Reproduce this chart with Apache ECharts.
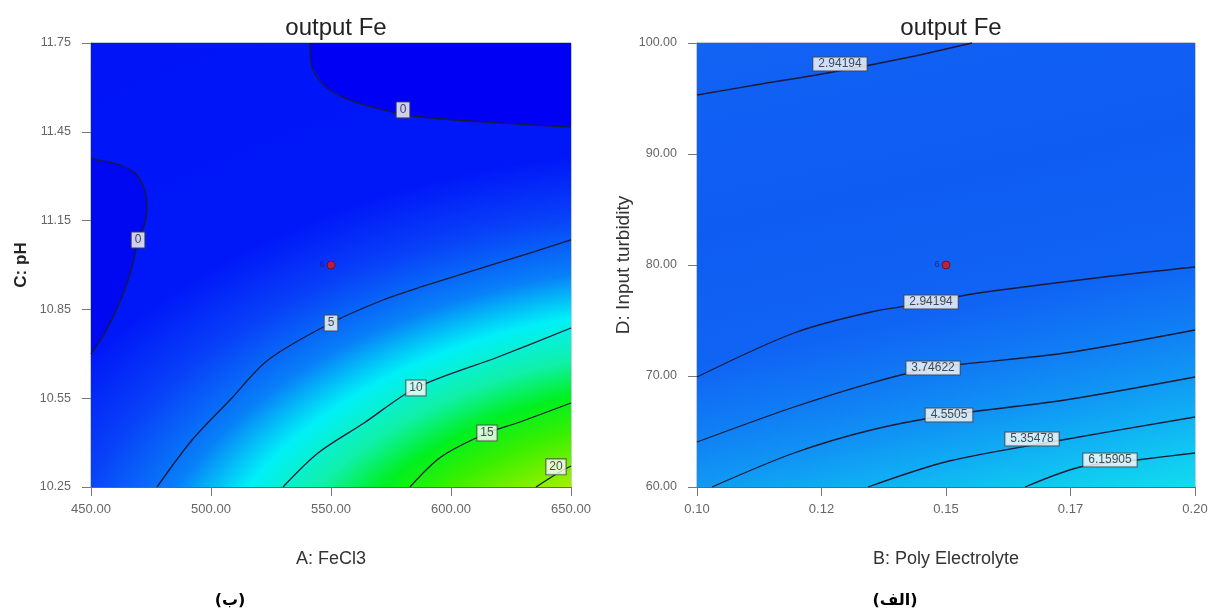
<!DOCTYPE html>
<html><head><meta charset="utf-8">
<script src="https://cdn.jsdelivr.net/npm/echarts@6/dist/echarts.min.js"></script>
<style>html,body{margin:0;padding:0;background:#fff}#c{width:1208px;height:610px}</style>
</head><body><div id="c"></div>
<script>
// ---------------- data ----------------
const leftXTicks  = ['450.00','500.00','550.00','600.00','650.00'];
const leftYTicks  = ['10.25','10.55','10.85','11.15','11.45','11.75'];
const rightXTicks = ['0.10','0.12','0.15','0.17','0.20'];
const rightYTicks = ['60.00','70.00','80.00','90.00','100.00'];
const rightXTickValues = [0.10,0.125,0.15,0.175,0.20];

// Left chart: A: FeCl3 (x) vs C: pH (y), contour lines of output Fe
const leftContour0Top  = [[541.25,11.75],[542.1,11.669],[547.9,11.601],[555.8,11.564],[571.7,11.524],[587.5,11.500],[619.6,11.480],[650,11.466]];
const leftContour0Left = [[450,11.3615],[452.9,11.3547],[462.1,11.3378],[468.3,11.3108],[472.1,11.2601],[473.3,11.1959],[472.5,11.1419],[469.6,11.0845],[467.1,10.9932],[462.9,10.8919],[455.8,10.7703],[450,10.6993]];
const leftContour5  = [[477.5,10.25],[492.1,10.4088],[507.9,10.5439],[523.75,10.6791],[550,10.8041],[571.7,10.8818],[587.5,10.9257],[619.6,11.0068],[650,11.0845]];
const leftContour10 = [[530,10.25],[544.6,10.3649],[563.75,10.4662],[585.4,10.5845],[619.6,10.6892],[650,10.7872]];
const leftContour15 = [[582.9,10.25],[595.8,10.3514],[615,10.4324],[627.5,10.4662],[650,10.5338]];
const leftContour20 = [[635.4,10.25],[644.6,10.2973],[650,10.3209]];
const leftLabels = [[580,11.524,'0'],[469.6,11.0845,'0'],[550,10.804,'5'],[585.4,10.5845,'10'],[615,10.4324,'15'],[643.75,10.318,'20']];
const leftDesignPoints = [[550,11.0,'6']];

// Right chart: B: Poly Electrolyte (x) vs D: Input turbidity (y)
const rightContour294Top = [[0.1,95.315],[0.11165,96.216],[0.12731,97.387],[0.14277,98.739],[0.15522,100]];
const rightContour294    = [[0.1,69.91],[0.11948,73.874],[0.13494,75.766],[0.147,76.667],[0.15522,77.387],[0.18173,78.919],[0.2,79.82]];
const rightContour374    = [[0.1,64.054],[0.11948,67.207],[0.13494,69.369],[0.1474,70.721],[0.1739,72.072],[0.2,74.144]];
const rightContour455    = [[0.10301,60],[0.11948,63.063],[0.13494,65.135],[0.1506,66.486],[0.1739,67.838],[0.2,69.91]];
const rightContour535    = [[0.13434,60],[0.1506,62.342],[0.17329,64.234],[0.2,66.306]];
const rightContour616    = [[0.16586,60],[0.17691,61.802],[0.18835,62.432],[0.2,63.063]];
const rightLabels = [[0.12871,98.108,'2.94194'],[0.147,76.667,'2.94194'],[0.1474,70.721,'3.74622'],[0.1506,66.486,'4.5505'],[0.16727,64.324,'5.35478'],[0.18293,62.432,'6.15905']];
const rightDesignPoints = [[0.15,80,'6']];

// ---------------- styles ----------------
const FONT = 'Liberation Sans, Arial, sans-serif';
const LINE_COLOR = '#1a1a36';
// left colour ramp: ellipse centre and unit radii (data units), ramp offsets = radius / 1.85
const leftRampCenter = [703.75, 9.7007];
const leftRampRadius = [240.6, 1.3007];
const leftStops = [
  [0.37,'#e8f000'],[0.453,'#b8f000'],[0.53,'#78f000'],[0.608,'#38f000'],[0.695,'#00f020'],
  [0.782,'#10f0a8'],[0.89,'#00f0f8'],[1.0,'#0880f8'],[1.15,'#0840f8'],[1.30,'#0018f8'],[1.85,'#0014f8']
].map(s => ({offset: s[0] / 1.85, color: s[1]}));
const rightStops = [
  [0,'#1264f4'],[0.1035,'#1160f4'],[0.3475,'#0f5cf2'],[0.584,'#1064f4'],[0.704,'#107ef4'],
  [0.791,'#1096f4'],[0.861,'#10aef4'],[0.928,'#10c6f2'],[1,'#12dcf0']
].map(s => ({offset: s[0], color: s[1]}));

function axisRange(ticks) {
  const v = ticks.map(Number);
  return {min: v[0], max: v[v.length - 1], interval: (v[v.length - 1] - v[0]) / (v.length - 1)};
}
const LX = axisRange(leftXTicks), LY = axisRange(leftYTicks);
const RX = axisRange(rightXTickValues);
const RY = axisRange(rightYTicks);
function tickFmt(ticks, r) {
  return v => { const i = Math.round((v - r.min) / r.interval); return ticks[i] !== undefined ? ticks[i] : ''; };
}

function xAxisOf(gi, r, ticks, name) {
  return {
    gridIndex: gi, type: 'value', min: r.min, max: r.max, interval: r.interval,
    name: name, nameLocation: 'middle', nameGap: 63,
    nameTextStyle: {fontSize: 18, color: '#333', fontFamily: FONT},
    axisLine: {show: true, lineStyle: {color: '#666', width: 1}},
    axisTick: {show: true, length: 9, lineStyle: {color: '#777'}},
    axisLabel: {show: true, formatter: tickFmt(ticks, r), fontSize: 13, color: '#666', margin: 16,
      fontFamily: FONT, showMinLabel: true, showMaxLabel: true, hideOverlap: false},
    splitLine: {show: false}
  };
}
function yAxisOf(gi, r, ticks, name, gap, bold, fs) {
  return {
    gridIndex: gi, type: 'value', min: r.min, max: r.max, interval: r.interval,
    name: name, nameLocation: 'middle', nameGap: gap, nameRotate: 90,
    nameTextStyle: {fontSize: fs, color: bold ? '#222' : '#333', fontWeight: bold ? 'bold' : 'normal', fontFamily: FONT},
    axisLine: {show: true, lineStyle: {color: '#666', width: 1}},
    axisTick: {show: true, length: 9, lineStyle: {color: '#777'}},
    axisLabel: {show: true, formatter: tickFmt(ticks, r), fontSize: 12.5, color: '#666', margin: 20,
      fontFamily: FONT, showMinLabel: true, showMaxLabel: true, hideOverlap: false},
    splitLine: {show: false}
  };
}

function contourLine(gi, data) {
  return {type: 'line', xAxisIndex: gi, yAxisIndex: gi, data: data, showSymbol: false, symbol: 'none',
    smooth: 0.3, silent: true, z: 3, lineStyle: {color: LINE_COLOR, width: 1.3}, animation: false};
}
function polygonFill(gi, pts, fill) {
  return {type: 'custom', xAxisIndex: gi, yAxisIndex: gi, data: [0], silent: true, z: 2, animation: false,
    renderItem: (p, api) => ({type: 'polygon', shape: {points: pts.map(q => api.coord(q))}, style: {fill: fill}})};
}
function labelSeries(gi, data, fs, pad) {
  return {type: 'scatter', xAxisIndex: gi, yAxisIndex: gi, data: data, symbolSize: 1, silent: true, z: 5,
    itemStyle: {color: 'rgba(0,0,0,0)'}, animation: false,
    label: {show: true, position: 'inside', formatter: p => p.value[2], fontSize: fs, color: '#222',
      fontFamily: FONT, backgroundColor: '#fff', borderColor: '#444', borderWidth: 1, padding: pad}};
}
function pointSeries(gi, data) {
  return {type: 'scatter', xAxisIndex: gi, yAxisIndex: gi, data: data, symbol: 'circle', symbolSize: 8,
    silent: true, z: 6, animation: false, itemStyle: {color: '#e01818', borderColor: '#7a0000', borderWidth: 1},
    label: {show: true, position: 'left', distance: 2, formatter: p => p.value[2], fontSize: 9, color: '#1a1a70', fontFamily: FONT}};
}

const series = [
  // left base surface colour (elliptical ramp)
  {type: 'custom', xAxisIndex: 0, yAxisIndex: 0, data: [0], silent: true, z: 1, animation: false,
    renderItem: function (p, api) {
      const tl = api.coord([LX.min, LY.max]);
      const br = api.coord([LX.max, LY.min]);
      const c = api.coord(leftRampCenter);
      const rx = api.coord([leftRampCenter[0] + leftRampRadius[0], leftRampCenter[1]])[0] - c[0];
      const ry = c[1] - api.coord([leftRampCenter[0], leftRampCenter[1] + leftRampRadius[1]])[1];
      return {
        type: 'rect', x: c[0], y: c[1], scaleX: rx, scaleY: ry,
        shape: {x: (tl[0] - c[0]) / rx, y: (tl[1] - c[1]) / ry, width: (br[0] - tl[0]) / rx, height: (br[1] - tl[1]) / ry},
        style: {fill: new echarts.graphic.RadialGradient(0, 0, 1.85, leftStops, true)}
      };
    }},
  polygonFill(0, leftContour0Top.concat([[LX.max, LY.max]]), '#0000f4'),
  polygonFill(0, leftContour0Left, '#0008f2'),
  contourLine(0, leftContour0Top), contourLine(0, leftContour0Left), contourLine(0, leftContour5),
  contourLine(0, leftContour10), contourLine(0, leftContour15), contourLine(0, leftContour20),
  labelSeries(0, leftLabels, 12, [2, 3, 1, 3]),
  pointSeries(0, leftDesignPoints),

  // right base surface colour
  {type: 'custom', xAxisIndex: 1, yAxisIndex: 1, data: [0], silent: true, z: 1, animation: false,
    renderItem: function (p, api) {
      const tl = api.coord([RX.min, RY.max]);
      const br = api.coord([RX.max, RY.min]);
      return {type: 'rect', shape: {x: tl[0], y: tl[1], width: br[0] - tl[0], height: br[1] - tl[1]},
        style: {fill: new echarts.graphic.LinearGradient(0, 0, 0.2336, 1.19, rightStops)}};
    }},
  contourLine(1, rightContour294Top), contourLine(1, rightContour294), contourLine(1, rightContour374),
  contourLine(1, rightContour455), contourLine(1, rightContour535), contourLine(1, rightContour616),
  labelSeries(1, rightLabels, 12, [1, 5, 0, 5]),
  pointSeries(1, rightDesignPoints)
];

const chart = echarts.init(document.getElementById('c'), null, {renderer: 'canvas'});
chart.setOption({
  backgroundColor: '#fff',
  animation: false,
  title: [
    {text: 'output Fe', left: 331, top: 11, textAlign: 'center', textStyle: {fontSize: 24, fontWeight: 'normal', color: '#222', fontFamily: FONT}},
    {text: 'output Fe', left: 946, top: 11, textAlign: 'center', textStyle: {fontSize: 24, fontWeight: 'normal', color: '#222', fontFamily: FONT}},
    {text: '(ب)', left: 225, top: 588, textAlign: 'center', textStyle: {fontSize: 16, fontWeight: 'bold', color: '#000', fontFamily: 'DejaVu Sans'}},
    {text: '(الف)', left: 890, top: 588, textAlign: 'center', textStyle: {fontSize: 16, fontWeight: 'bold', color: '#000', fontFamily: 'DejaVu Sans'}}
  ],
  grid: [
    {left: 91, top: 43, width: 480, height: 444, show: true, borderColor: '#8a97aa', borderWidth: 1, backgroundColor: 'transparent', containLabel: false, outerBoundsMode: 'none'},
    {left: 697, top: 43, width: 498, height: 444, show: true, borderColor: '#8a97aa', borderWidth: 1, backgroundColor: 'transparent', containLabel: false, outerBoundsMode: 'none'}
  ],
  xAxis: [xAxisOf(0, LX, leftXTicks, 'A: FeCl3'), xAxisOf(1, RX, rightXTicks, 'B: Poly Electrolyte')],
  yAxis: [yAxisOf(0, LY, leftYTicks, 'C: pH', 61, true, 17), yAxisOf(1, RY, rightYTicks, 'D: Input turbidity', 64, false, 19)],
  series: series
});
</script></body></html>
